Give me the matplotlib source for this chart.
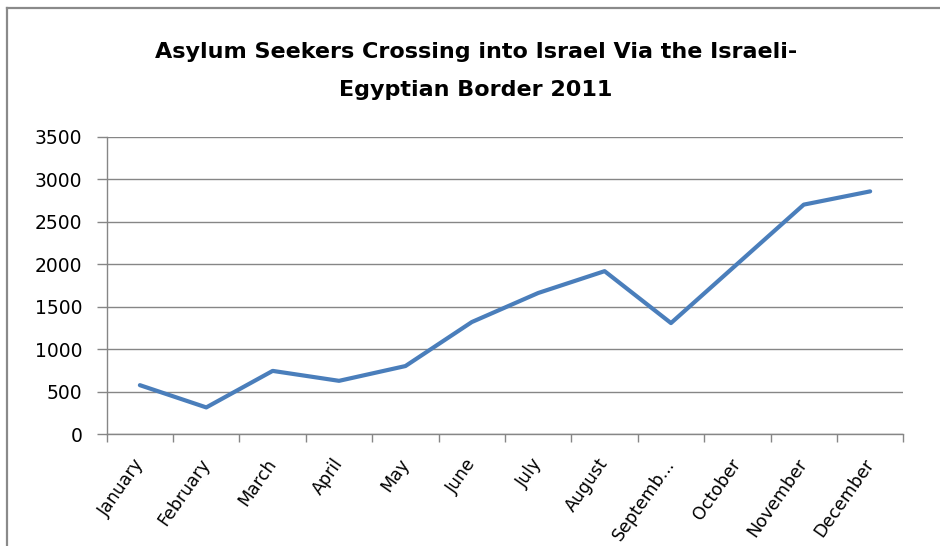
import matplotlib
matplotlib.use('Agg')
import matplotlib.pyplot as plt
from matplotlib.lines import Line2D
import numpy as np

# monthly counts
months = ['January', 'February', 'March', 'April', 'May', 'June', 'July',
          'August', 'Septemb...', 'October', 'November', 'December']
crossings = [575, 313, 743, 626, 800, 1318, 1660, 1917, 1306, 2003, 2700, 2856]
y_ticks = [0, 500, 1000, 1500, 2000, 2500, 3000, 3500]

GRID = '#868686'
LINE = '#4A7EBB'

fig = plt.figure(figsize=(9.4, 5.46), dpi=100)
ax = fig.add_axes([0.1135, 0.2051, 0.8475, 0.5446])

x = np.arange(len(months))
ax.plot(x, crossings, color=LINE, lw=3, solid_capstyle='round',
        solid_joinstyle='round', zorder=3)

ax.set_xlim(-0.5, len(months) - 0.5)
ax.set_ylim(0, 3500)
ax.set_yticks(y_ticks)
ax.set_yticklabels([str(v) for v in y_ticks], fontsize=13.5)
ax.yaxis.grid(True, color=GRID, lw=1)
ax.set_axisbelow(True)

# labels at category centres, tick marks at boundaries
ax.set_xticks(x)
ax.set_xticklabels(months, fontsize=12.5, rotation=55, ha='right',
                   va='center', rotation_mode='anchor')
ax.set_xticks(np.arange(-0.5, len(months), 1), minor=True)
ax.tick_params(axis='x', which='major', length=0, pad=19)
ax.tick_params(axis='x', which='minor', length=5.5, color=GRID, width=1,
               direction='out')
ax.tick_params(axis='y', length=7, color=GRID, width=1, pad=10.5)

for s in ['top', 'right']:
    ax.spines[s].set_visible(False)
for s in ['left', 'bottom']:
    ax.spines[s].set_color(GRID)
    ax.spines[s].set_linewidth(1)

fig.text(0.506, 1 - 52 / 546, 'Asylum Seekers Crossing into Israel Via the Israeli-',
         ha='center', va='center', fontsize=16, fontweight='bold')
fig.text(0.506, 1 - 90 / 546, 'Egyptian Border 2011',
         ha='center', va='center', fontsize=16, fontweight='bold')

# chart frame (only the left and top edges show in the reference)
fig.add_artist(Line2D([6.5 / 940, 6.5 / 940], [0, 1 - 8 / 546],
                      transform=fig.transFigure, color='#8a8a8a', lw=1.6))
fig.add_artist(Line2D([6.5 / 940, 1], [1 - 8 / 546, 1 - 8 / 546],
                      transform=fig.transFigure, color='#8a8a8a', lw=1.6))

fig.savefig('out.png', dpi=100, facecolor='white')
